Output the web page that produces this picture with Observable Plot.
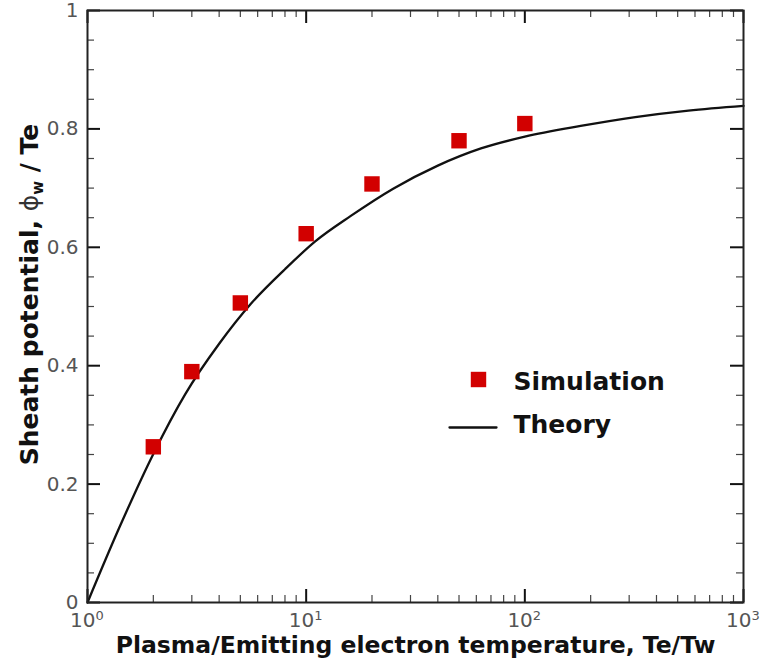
<!DOCTYPE html>
<html>
<head>
<meta charset="utf-8">
<script src="https://cdn.jsdelivr.net/npm/d3@7"></script>
<script src="https://cdn.jsdelivr.net/npm/@observablehq/plot@0.6"></script>
<style>
  html, body { margin: 0; padding: 0; background: #fff; }
  #chart { width: 762px; height: 663px; }
</style>
</head>
<body>
<div id="chart"></div>
<script>
// Simulated sheath potential (φw / Te) against the temperature ratio Te/Tw
const simTemp = [2, 3, 5, 10, 20, 50, 100];
const simPhi  = [0.263, 0.390, 0.506, 0.623, 0.707, 0.780, 0.809];

// Theoretical curve, sampled along Te/Tw
const theoryTemp = [1, 1.4, 2, 2.8, 4, 5.6, 8, 11, 16, 25, 40, 63, 100, 180, 320, 560, 1000];
const theoryPhi  = [0, 0.127, 0.251, 0.352, 0.437, 0.505, 0.563, 0.610, 0.653, 0.699, 0.738, 0.767, 0.787, 0.805, 0.820, 0.831, 0.839];

// Axis ticks and labels
const xMajor = [1, 10, 100, 1000];
const xExponent = ["0", "1", "2", "3"];
const xMinor = [2, 3, 4, 5, 6, 7, 8, 9, 20, 30, 40, 50, 60, 70, 80, 90, 200, 300, 400, 500, 600, 700, 800, 900];
const yMajor = [0, 0.2, 0.4, 0.6, 0.8, 1];
const yLabels = ["0", "0.2", "0.4", "0.6", "0.8", "1"];
const yMinor = [0.05, 0.1, 0.15, 0.25, 0.3, 0.35, 0.45, 0.5, 0.55, 0.65, 0.7, 0.75, 0.85, 0.9, 0.95];

const xTitle = "Plasma/Emitting electron temperature, Te/Tw";
const yTitle = "Sheath potential, ϕw / Te";
const legendLabels = ["Simulation", "Theory"];

const red = "#d20000";
const ink = "#111";
const tickInk = "#555";

const W = 762, H = 663;
const margin = { left: 87, right: 19, top: 10, bottom: 61 };
const frameW = W - margin.left - margin.right;
const frameH = H - margin.top - margin.bottom;

// Short ticks pointing into the frame from both opposite sides
function inwardTicks(values, axis, len, strokeWidth, stroke) {
  const style = { stroke, strokeWidth, strokeLinecap: "butt" };
  if (axis === "x") {
    return [
      Plot.ruleX(values, { x: d => d, insetTop: frameH - len, ...style }),
      Plot.ruleX(values, { x: d => d, insetBottom: frameH - len, ...style })
    ];
  }
  return [
    Plot.ruleY(values, { y: d => d, insetRight: frameW - len, ...style }),
    Plot.ruleY(values, { y: d => d, insetLeft: frameW - len, ...style })
  ];
}

// A plain horizontal segment for the legend's line sample
const stick = {
  draw(context, length) {
    context.moveTo(0, 0);
    context.lineTo(0, -length);
  }
};

const chart = Plot.plot({
  width: W,
  height: H,
  marginLeft: margin.left,
  marginRight: margin.right,
  marginTop: margin.top,
  marginBottom: margin.bottom,
  style: { fontFamily: "DejaVu Sans", background: "#fff", color: ink },
  x: { type: "log", domain: [1, 1000], axis: null },
  y: { domain: [0, 1], axis: null },
  marks: [
    ...inwardTicks(xMinor, "x", 7, 1.2, "#444"),
    ...inwardTicks(yMinor, "y", 7, 1.2, "#444"),
    ...inwardTicks(xMajor, "x", 13, 2, ink),
    ...inwardTicks(yMajor, "y", 13, 2, ink),

    // x tick labels: 10 with a raised exponent
    Plot.text(xMajor, {
      x: d => d, text: () => "10", frameAnchor: "bottom",
      textAnchor: "end", lineAnchor: "top", dx: 8, dy: 10,
      fontSize: 20, fill: tickInk
    }),
    Plot.text(xMajor, {
      x: d => d, text: (d, i) => xExponent[i], frameAnchor: "bottom",
      textAnchor: "start", lineAnchor: "top", dx: 8, dy: 8,
      fontSize: 13, fill: tickInk
    }),
    // y tick labels
    Plot.text(yMajor, {
      y: d => d, text: (d, i) => yLabels[i], frameAnchor: "left",
      textAnchor: "end", lineAnchor: "middle", dx: -9,
      fontSize: 20, fill: tickInk
    }),

    // theory curve and simulation points
    Plot.line(theoryTemp, {
      x: d => d, y: (d, i) => theoryPhi[i],
      curve: "monotone-x", stroke: ink, strokeWidth: 2.3
    }),
    Plot.dot(simTemp, {
      x: d => d, y: (d, i) => simPhi[i],
      symbol: "square", r: 8.7, fill: red, stroke: "none"
    }),

    // legend
    Plot.dot([legendLabels[0]], {
      frameAnchor: "top-left", dx: 391, dy: 369,
      symbol: "square", r: 8.7, fill: red, stroke: "none"
    }),
    Plot.vector([legendLabels[1]], {
      frameAnchor: "top-left", dx: 362, dy: 417,
      rotate: 90, length: 47, anchor: "start", shape: stick,
      stroke: ink, strokeWidth: 2.3, fill: "none"
    }),
    Plot.text([legendLabels[0]], {
      frameAnchor: "top-left", text: d => d, dx: 426, dy: 379,
      textAnchor: "start", lineAnchor: "bottom",
      fontSize: 25, fontWeight: "bold", fill: ink
    }),
    Plot.text([legendLabels[1]], {
      frameAnchor: "top-left", text: d => d, dx: 426, dy: 422,
      textAnchor: "start", lineAnchor: "bottom",
      fontSize: 25, fontWeight: "bold", fill: ink
    }),

    // axis titles
    Plot.text([xTitle], {
      frameAnchor: "bottom", text: d => d, dy: 50,
      textAnchor: "middle", lineAnchor: "bottom",
      fontSize: 23.5, fontWeight: "bold", fill: ink
    }),
    Plot.text([yTitle], {
      frameAnchor: "left", text: d => d, dx: -50, dy: -12, rotate: -90,
      textAnchor: "middle", lineAnchor: "bottom",
      fontSize: 25, fontWeight: "bold", fill: ink
    }),

    Plot.frame({ stroke: "#222", strokeWidth: 2 })
  ]
});

// Subscript w on the potential symbol in the y title
d3.select(chart).selectAll("text")
  .filter(function () { return this.textContent === yTitle; })
  .each(function () {
    const t = d3.select(this);
    t.text(null);
    t.append("tspan").text("Sheath potential, ");
    t.append("tspan").attr("font-weight", "normal").attr("fill", "#333").text("ϕ");
    t.append("tspan").attr("font-size", 15).attr("dy", 5).text("w");
    t.append("tspan").attr("dy", -5).text(" / Te");
  });

document.getElementById("chart").append(chart);
</script>
</body>
</html>
